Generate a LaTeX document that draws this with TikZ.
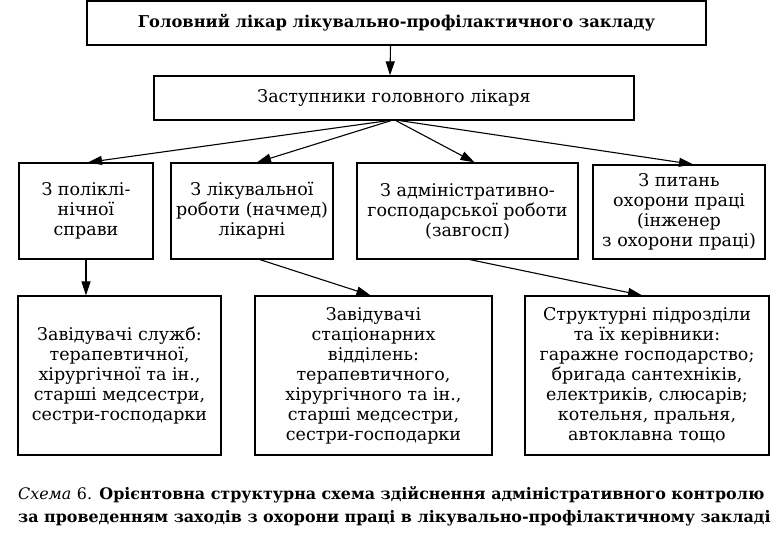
\documentclass[tikz,border=0pt]{standalone}
\usepackage{fontspec}
\setmainfont{DejaVu Serif}
\usetikzlibrary{arrows.meta}
\begin{document}
\begin{tikzpicture}[x=1pt,y=-1pt,
  box/.style={draw, line width=1.3pt, inner sep=0pt, align=center, font=\fontsize{17.5}{20}\selectfont},
  arr/.style={line width=1.1pt, -{Triangle[length=14pt,width=9pt]}}]
\useasboundingbox (0,0) rectangle (781,540);
\node[box, minimum width=619pt, minimum height=44pt, font=\bfseries\fontsize{16.3}{20}\selectfont] (top) at (396.5,23) {Головний лікар лікувально-профілактичного закладу};
\node[box, minimum width=480pt, minimum height=44pt] (dep) at (394,98) {Заступники головного лікаря};
\node[box, minimum width=134pt, minimum height=96pt] (b1) at (86,211) {З поліклі-\\нічної\\справи};
\node[box, minimum width=162pt, minimum height=96pt] (b2) at (252,211) {З лікувальної\\роботи (начмед)\\лікарні};
\node[box, minimum width=221pt, minimum height=96pt] (b3) at (467.5,211) {З адміністративно-\\господарської роботи\\(завгосп)};
\node[box, minimum width=172pt, minimum height=94pt] (b4) at (679,212) {З питань\\охорони праці\\(інженер\\з охорони праці)};
\node[box, minimum width=203pt, minimum height=159pt] (c1) at (119.5,375.5) {Завідувачі служб:\\терапевтичної,\\хірургічної та ін.,\\старші медсестри,\\сестри-господарки};
\node[box, minimum width=237pt, minimum height=159pt] (c2) at (373.5,375.5) {Завідувачі\\стаціонарних\\відділень:\\терапевтичного,\\хірургічного та ін.,\\старші медсестри,\\сестри-господарки};
\node[box, minimum width=244pt, minimum height=159pt] (c3) at (647,375.5) {Структурні підрозділи\\та їх керівники:\\гаражне господарство;\\бригада сантехніків,\\електриків, слюсарів;\\котельня, пральня,\\автоклавна тощо};
\node[anchor=base west, inner sep=0pt, align=left, font=\bfseries\fontsize{15.9}{23}\selectfont] (cap) at (18,522)
  {{\mdseries\itshape Схема}~{\mdseries 6.} Орієнтовна структурна схема здійснення адміністративного контролю\\за проведенням заходів з охорони праці в лікувально-профілактичному закладі};
\draw[arr] ([xshift=-6pt]top.south) -- ([xshift=-4pt]dep.north);
\draw[arr] ([xshift=-6pt]dep.south) -- ([xshift=2pt]b1.north);
\draw[arr] ([xshift=-3pt]dep.south) -- ([xshift=5pt]b2.north);
\draw[arr] ([xshift=2pt]dep.south) -- ([xshift=7pt]b3.north);
\draw[arr] ([xshift=6pt]dep.south) -- ([xshift=14pt]b4.north);
\draw[arr] (b1.south) -- (b1.south |- c1.north);
\draw[arr] ([xshift=8pt]b2.south) -- ([xshift=-3pt]c2.north);
\draw[arr] ([xshift=2.5pt]b3.south) -- ([xshift=-5pt]c3.north);
\end{tikzpicture}
\end{document}
